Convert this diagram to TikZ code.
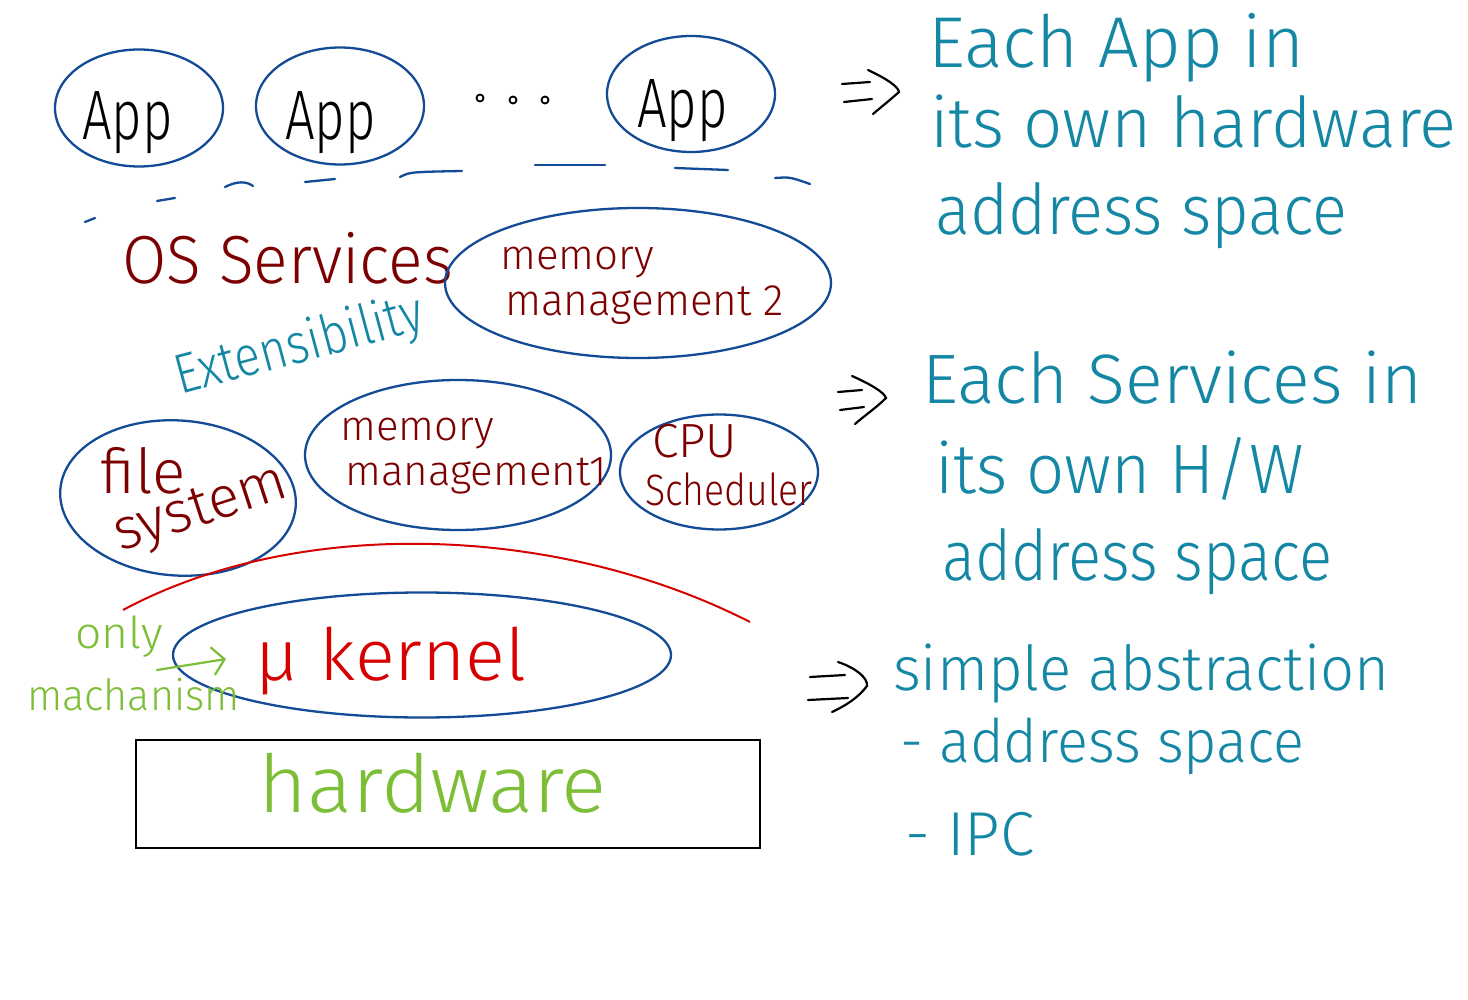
\documentclass[tikz,border=0pt]{standalone}
\usepackage{fontspec}
\newfontfamily\hand{Fira Sans Light}
\usetikzlibrary{shapes.geometric,arrows.meta}
\definecolor{eblue}{RGB}{20,75,150}
\definecolor{dred}{RGB}{125,0,0}
\definecolor{tealc}{RGB}{20,135,165}
\definecolor{lgreen}{RGB}{125,190,55}
\definecolor{kred}{RGB}{215,0,0}
\newcommand\fs[1]{\fontsize{#1}{#1}\selectfont\hand}
\begin{document}
\begin{tikzpicture}[x=1pt,y=-1pt,
  oval/.style={draw=eblue, line width=2.3pt, ellipse, inner sep=0pt},
  txt/.style={inner sep=0pt, anchor=base west},
  apptxt/.style={txt, font=\fs{70}, xscale=0.75, transform shape},
  svc/.style={txt, text=dred},
  note/.style={txt, text=tealc},
  sq/.style={xscale=#1, transform shape},
  implies/.style={draw=black, line width=2.2pt, line cap=round},
  dashseg/.style={draw=eblue, line width=2.3pt, line cap=round},
]
\useasboundingbox[fill=white] (0,0) rectangle (1468,1000);

% --- applications
\node[oval, minimum width=168, minimum height=117] (app1) at (139,108) {};
\node[oval, minimum width=168, minimum height=117] (app2) at (340,106) {};
\node[oval, minimum width=168, minimum height=116] (app3) at (691,94) {};
\node[apptxt] (app1t) at (82,140) {App};
\node[apptxt] (app2t) at (285,140) {App};
\node[apptxt] (app3t) at (637,128) {App};
\foreach \x/\y [count=\i] in {480/98, 513/100, 545/100}
  \node[draw=black, line width=1.8pt, circle, inner sep=0pt, minimum size=7] (dot\i) at (\x,\y) {};

% --- dashed separator
\draw[dashseg] (85,222) -- (95,218);
\draw[dashseg] (157,201) -- (175,198);
\draw[dashseg] (225,187) .. controls (237,181) and (246,181) .. (253,186);
\draw[dashseg] (305,182) -- (335,179);
\draw[dashseg] (400,177) .. controls (410,172) .. (462,171);
\draw[dashseg] (535,165) -- (605,165);
\draw[dashseg] (675,168) -- (728,170);
\draw[dashseg] (775,178) .. controls (790,177) .. (810,184);

% --- OS services
\node[svc, font=\fs{68}, sq=0.945] (ossvc) at (122,284) {OS Services};
\node[oval, minimum width=386, minimum height=150] (mm2) at (638,283) {};
\node[svc, font=\fs{42}] (mm2a) at (500,270) {memory};
\node[svc, font=\fs{44}, sq=0.96] (mm2b) at (505,316) {management 2};
\node[note, font=\fs{56}, rotate=15, sq=0.85] (ext) at (180,395) {Extensibility};

\node[oval, minimum width=236, minimum height=155, rotate=-4] (fs) at (178,498) {};
\node[svc, font=\fs{62}] (fsa) at (100,493) {file};
\node[svc, font=\fs{58}, rotate=18] (fsb) at (120,552) {system};
\node[oval, minimum width=306, minimum height=150] (mm1) at (458,455) {};
\node[svc, font=\fs{42}] (mm1a) at (340,440) {memory};
\node[svc, font=\fs{42}] (mm1b) at (345,485) {management1};
\node[oval, minimum width=198, minimum height=115] (cpu) at (719,472) {};
\node[svc, font=\fs{48}] (cpua) at (652,457) {CPU};
\node[svc, font=\fs{44}, sq=0.85] (cpub) at (645,505) {Scheduler};

% --- kernel
\draw[kred, line width=2pt] (123,610) .. controls (300,515) and (560,525) .. (750,622);
\node[oval, minimum width=498, minimum height=125] (kern) at (422,655) {};
\node[txt, text=kred, font=\fs{72}, sq=1.03] (kernt) at (255,680) {μ kernel};
\node[txt, text=lgreen, font=\fs{44}, sq=1.05] (only) at (75,648) {only};
\node[txt, text=lgreen, font=\fs{43}, sq=0.96] (mech) at (27,710) {machanism};
\coordinate (mechend) at (226,659);
\draw[lgreen, line width=2.2pt, line cap=round, -{Straight Barb[length=12pt, width=28pt, line width=2.2pt]}] (157,670) -- (mechend);

% --- hardware
\node[draw=black, line width=2pt, minimum width=624, minimum height=108, inner sep=0pt] (hw) at (448,794) {};
\node[txt, text=lgreen, font=\fs{80}, sq=1.05] (hwt) at (258,812) {hardware};

% --- implications
\draw[implies] (842,84) -- (870,82) (844,102) -- (872,99);
\draw[implies] (868,70) .. controls (885,78) and (898,86) .. (899,92) .. controls (890,100) and (880,108) .. (873,114);
\node[note, font=\fs{72}] (n1a) at (928,68) {Each App in};
\node[note, font=\fs{70}, sq=0.985] (n1b) at (930,148) {its own hardware};
\node[note, font=\fs{70}, sq=0.93] (n1c) at (935,235) {address space};

\draw[implies] (838,392) -- (862,390) (840,410) -- (864,407);
\draw[implies] (852,376) .. controls (870,384) and (884,392) .. (886,398) .. controls (876,408) and (864,416) .. (855,424);
\node[note, font=\fs{70}] (n2a) at (922,403) {Each Services in};
\node[note, font=\fs{70}, sq=0.96] (n2b) at (935,493) {its own H/W};
\node[note, font=\fs{70}, sq=0.88] (n2c) at (942,580) {address space};

\draw[implies] (810,677) -- (845,675) (808,700) -- (848,698);
\draw[implies] (838,662) .. controls (856,668) and (868,678) .. (867,686) .. controls (858,698) and (845,706) .. (832,712);
\node[note, font=\fs{62}, sq=0.965] (n3a) at (893,690) {simple abstraction};
\node[note, font=\fs{60}, sq=0.96] (n3b) at (900,762) {- address space};
\node[note, font=\fs{62}] (n3c) at (905,855) {- IPC};
\end{tikzpicture}
\end{document}
